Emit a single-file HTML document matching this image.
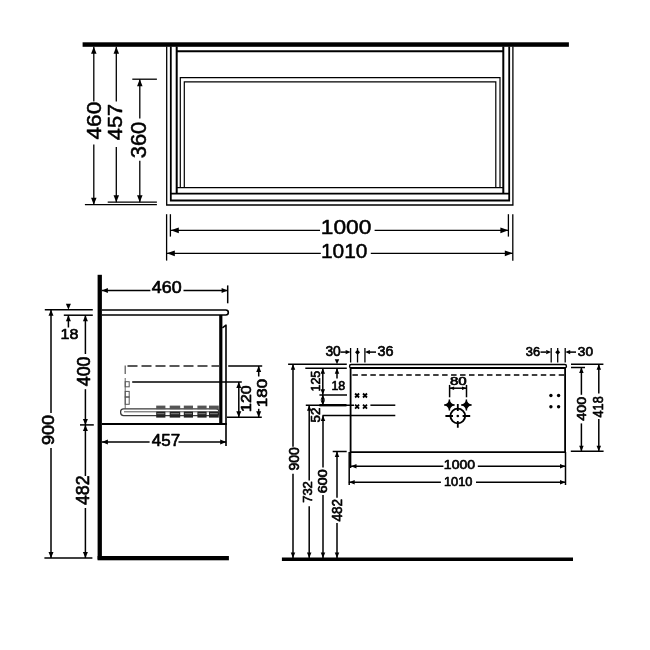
<!DOCTYPE html>
<html><head><meta charset="utf-8"><style>
html,body{margin:0;padding:0;background:#fff;width:650px;height:650px;overflow:hidden}
svg{display:block;will-change:transform}
text{font-family:"Liberation Sans",sans-serif;fill:#000}
</style></head><body>
<svg width="650" height="650" viewBox="0 0 650 650" stroke="#000" fill="#000" stroke-linecap="butt">
<rect x="82.6" y="42.3" width="486.3" height="4.5" stroke="none"/>
<path d="M166.7,46.5 V205 H512.9 V46.5" stroke-width="1.3" fill="none"/>
<path d="M170.8,46.5 V200.5 H509.2 V46.5" stroke-width="1.8" fill="none"/>
<line x1="170.8" y1="193.7" x2="509.2" y2="193.7" stroke-width="1.8"/>
<path d="M176.7,46.5 V193.7" stroke-width="2" fill="none"/>
<path d="M503.3,46.5 V193.7" stroke-width="2" fill="none"/>
<line x1="176.7" y1="51.2" x2="503.3" y2="51.2" stroke-width="2"/>
<path d="M180.3,187.6 V77.7 H500 V187.6" stroke-width="1.2" fill="none"/>
<path d="M184.3,187.6 V81.9 H495.8 V187.6" stroke-width="1.2" fill="none"/>
<line x1="176.7" y1="187.6" x2="503.3" y2="187.6" stroke-width="1.4"/>
<line x1="93.8" y1="46.8" x2="93.8" y2="101.5" stroke-width="1.3"/>
<line x1="93.8" y1="144.6" x2="93.8" y2="204.7" stroke-width="1.3"/>
<polygon points="93.8,46.8 91.05,53.8 96.55,53.8" stroke="none"/>
<polygon points="93.8,204.7 91.05,197.7 96.55,197.7" stroke="none"/>
<line x1="116.3" y1="46.8" x2="116.3" y2="101.5" stroke-width="1.3"/>
<line x1="116.3" y1="146.9" x2="116.3" y2="202.2" stroke-width="1.3"/>
<polygon points="116.3,46.8 113.55,53.8 119.05,53.8" stroke="none"/>
<polygon points="116.3,202.2 113.55,195.2 119.05,195.2" stroke="none"/>
<line x1="139.8" y1="79.2" x2="139.8" y2="118.5" stroke-width="1.3"/>
<line x1="139.8" y1="160.8" x2="139.8" y2="202.2" stroke-width="1.3"/>
<polygon points="139.8,79.2 137.05,86.2 142.55,86.2" stroke="none"/>
<polygon points="139.8,202.2 137.05,195.2 142.55,195.2" stroke="none"/>
<line x1="132.3" y1="79.2" x2="156.9" y2="79.2" stroke-width="1.3"/>
<line x1="84.9" y1="204.7" x2="156.9" y2="204.7" stroke-width="1.3"/>
<line x1="107.7" y1="202.2" x2="156.9" y2="202.2" stroke-width="1.3"/>
<text transform="matrix(0.0,-1.084,1.0,0.0,101.0459,139.47)" font-size="20.904" stroke="#000" stroke-width="0.5" stroke-linejoin="round">460</text>
<text transform="matrix(0.0,-1.0827,1.0,0.0,121.8527,140.2521)" font-size="20.208" stroke="#000" stroke-width="0.5" stroke-linejoin="round">457</text>
<text transform="matrix(0.0,-0.9954,1.0,0.0,146.4348,158.2853)" font-size="22.034" stroke="#000" stroke-width="0.5" stroke-linejoin="round">360</text>
<line x1="166.6" y1="214.2" x2="166.6" y2="260.6" stroke-width="1.3"/>
<line x1="170.4" y1="214.2" x2="170.4" y2="236.6" stroke-width="1.3"/>
<line x1="512.8" y1="214.2" x2="512.8" y2="260.8" stroke-width="1.3"/>
<line x1="508.4" y1="214.2" x2="508.4" y2="236.6" stroke-width="1.3"/>
<line x1="170.8" y1="230.3" x2="320" y2="230.3" stroke-width="1.3"/>
<line x1="374.6" y1="230.3" x2="508.4" y2="230.3" stroke-width="1.3"/>
<polygon points="170.8,230.3 178.8,227.4 178.8,233.2" stroke="none"/>
<polygon points="508.4,230.3 500.4,227.4 500.4,233.2" stroke="none"/>
<line x1="166.8" y1="253.3" x2="320.8" y2="253.3" stroke-width="1.3"/>
<line x1="370.8" y1="253.3" x2="512.8" y2="253.3" stroke-width="1.3"/>
<polygon points="166.8,253.3 174.8,250.4 174.8,256.2" stroke="none"/>
<polygon points="512.8,253.3 504.8,250.4 504.8,256.2" stroke="none"/>
<text transform="matrix(1.0813,0.0,0.0,1.0,320.8167,234.3445)" font-size="21.045" stroke="#000" stroke-width="0.5" stroke-linejoin="round">1000</text>
<text transform="matrix(0.9934,0.0,0.0,1.0,320.9575,257.9445)" font-size="21.045" stroke="#000" stroke-width="0.5" stroke-linejoin="round">1010</text>
<rect x="97.6" y="274.8" width="4.3" height="284.7" stroke="none"/>
<rect x="97.6" y="556" width="131.3" height="4.3" stroke="none"/>
<line x1="101.9" y1="290.5" x2="150.4" y2="290.5" stroke-width="1.5"/>
<line x1="183.5" y1="290.5" x2="227.6" y2="290.5" stroke-width="1.5"/>
<polygon points="101.9,290.5 107.9,288.0 107.9,293.0" stroke="none"/>
<polygon points="227.6,290.5 221.6,288.0 221.6,293.0" stroke="none"/>
<line x1="227.7" y1="285.4" x2="227.7" y2="303.3" stroke-width="1.5"/>
<text transform="matrix(1.0839,0.0,0.0,1.0,151.8157,293.3143)" font-size="16.455" stroke="#000" stroke-width="0.65" stroke-linejoin="round">460</text>
<path d="M101.9,310 H225.8 A2.5,2.5 0 0 1 225.8,315 H101.9" stroke-width="1.6" fill="none"/>
<line x1="44.8" y1="309.7" x2="92.8" y2="309.7" stroke-width="1.5"/>
<line x1="63.8" y1="315.2" x2="92.8" y2="315.2" stroke-width="1.5"/>
<line x1="80" y1="424.9" x2="93.8" y2="424.9" stroke-width="1.5"/>
<line x1="44.4" y1="558" x2="92.4" y2="558" stroke-width="1.5"/>
<line x1="51" y1="309.7" x2="51" y2="413" stroke-width="1.5"/>
<line x1="51" y1="448" x2="51" y2="558" stroke-width="1.5"/>
<polygon points="51,309.7 48.5,315.7 53.5,315.7" stroke="none"/>
<polygon points="51,558 48.5,552 53.5,552" stroke="none"/>
<text transform="matrix(0.0,-1.0964,1.0,0.0,54.1143,445.1207)" font-size="16.455" stroke="#000" stroke-width="0.65" stroke-linejoin="round">900</text>
<polygon points="68.4,309.8 65.9,303.8 70.9,303.8" stroke="none"/>
<line x1="68.4" y1="315.2" x2="68.4" y2="327.5" stroke-width="1.5"/>
<polygon points="68.4,315.2 65.9,321.2 70.9,321.2" stroke="none"/>
<text transform="matrix(1.0389,0.0,0.0,1.0,60.5011,339.324)" font-size="15.466" stroke="#000" stroke-width="0.65" stroke-linejoin="round">18</text>
<line x1="85.4" y1="315.2" x2="85.4" y2="354" stroke-width="1.5"/>
<line x1="85.4" y1="389.2" x2="85.4" y2="424.9" stroke-width="1.5"/>
<polygon points="85.4,315.2 82.9,321.2 87.9,321.2" stroke="none"/>
<polygon points="85.4,424.9 82.9,418.9 87.9,418.9" stroke="none"/>
<text transform="matrix(0.0,-1.0224,1.0,0.0,89.5047,386.2843)" font-size="17.443" stroke="#000" stroke-width="0.65" stroke-linejoin="round">400</text>
<line x1="85.4" y1="424.9" x2="85.4" y2="476" stroke-width="1.5"/>
<line x1="85.4" y1="508" x2="85.4" y2="558" stroke-width="1.5"/>
<polygon points="85.4,424.9 82.9,430.9 87.9,430.9" stroke="none"/>
<polygon points="85.4,558 82.9,552 87.9,552" stroke="none"/>
<text transform="matrix(0.0,-0.9425,1.0,0.0,89.4909,505.0829)" font-size="18.856" stroke="#000" stroke-width="0.65" stroke-linejoin="round">482</text>
<rect x="219.2" y="315" width="3.2" height="109.8" stroke="none"/>
<path d="M222.4,327.8 L226,325.2 V446" stroke-width="1.6" fill="none" stroke-linejoin="round"/>
<line x1="101.9" y1="424" x2="226.8" y2="424" stroke-width="2.2"/>
<line x1="101.9" y1="441.9" x2="149.6" y2="441.9" stroke-width="1.5"/>
<line x1="178.5" y1="441.9" x2="226.2" y2="441.9" stroke-width="1.5"/>
<polygon points="101.9,441.9 107.9,439.4 107.9,444.4" stroke="none"/>
<polygon points="226.2,441.9 220.2,439.4 220.2,444.4" stroke="none"/>
<text transform="matrix(1.0156,0.0,0.0,1.0,151.8359,446.4119)" font-size="16.696" stroke="#000" stroke-width="0.65" stroke-linejoin="round">457</text>
<line x1="127.5" y1="366" x2="219" y2="366" stroke-width="1.6" stroke="#222" stroke-dasharray="10 4"/>
<line x1="125.2" y1="365.5" x2="125.2" y2="374" stroke-width="1.2" stroke="#555"/>
<line x1="125.2" y1="378" x2="125.2" y2="408.5" stroke-width="1.0" stroke="#666"/>
<rect x="125.2" y="381.7" width="4" height="5.1" fill="none" stroke="#555" stroke-width="1"/>
<rect x="125.2" y="391.4" width="4" height="5.6" fill="none" stroke="#555" stroke-width="1"/>
<rect x="125.2" y="397" width="4" height="7.3" fill="none" stroke="#555" stroke-width="1"/>
<line x1="228.2" y1="366" x2="262.2" y2="366" stroke-width="1.5"/>
<line x1="132.2" y1="382" x2="241.8" y2="382" stroke-width="1.5"/>
<line x1="227" y1="417.3" x2="261.8" y2="417.3" stroke-width="1.5"/>
<line x1="238.8" y1="382" x2="238.8" y2="417.3" stroke-width="1.5"/>
<polygon points="238.8,382 236.3,388 241.3,388" stroke="none"/>
<polygon points="238.8,417.3 236.3,411.3 241.3,411.3" stroke="none"/>
<line x1="258.7" y1="366" x2="258.7" y2="376.5" stroke-width="1.5"/>
<line x1="258.7" y1="408.8" x2="258.7" y2="417.3" stroke-width="1.5"/>
<polygon points="258.7,366 256.2,372 261.2,372" stroke="none"/>
<polygon points="258.7,417.3 256.2,411.3 261.2,411.3" stroke="none"/>
<text transform="matrix(0.0,-1.118,1.0,0.0,251.4364,411.8839)" font-size="14.195" stroke="#000" stroke-width="0.65" stroke-linejoin="round">120</text>
<text transform="matrix(0.0,-1.1951,1.0,0.0,267.0364,407.1672)" font-size="14.195" stroke="#000" stroke-width="0.65" stroke-linejoin="round">180</text>
<rect x="120.6" y="408.8" width="98.4" height="6.8" rx="3" fill="none" stroke="#3a3a3a" stroke-width="1.3"/>
<line x1="124" y1="411.8" x2="219" y2="411.8" stroke-width="1.0" stroke="#555"/>
<rect x="156.2" y="405.6" width="9.2" height="3.6" fill="#555" stroke="none"/>
<rect x="156.2" y="411.6" width="9.2" height="6" fill="#222" stroke="none"/>
<rect x="157.2" y="413.2" width="7.2" height="1" fill="#888" stroke="none"/>
<rect x="169.7" y="405.6" width="10.5" height="3.6" fill="#555" stroke="none"/>
<rect x="169.7" y="411.6" width="10.5" height="6" fill="#222" stroke="none"/>
<rect x="170.7" y="413.2" width="8.5" height="1" fill="#888" stroke="none"/>
<rect x="183.8" y="405.6" width="9.2" height="3.6" fill="#555" stroke="none"/>
<rect x="183.8" y="411.6" width="9.2" height="6" fill="#222" stroke="none"/>
<rect x="184.8" y="413.2" width="7.2" height="1" fill="#888" stroke="none"/>
<rect x="197.4" y="405.6" width="9.2" height="3.6" fill="#555" stroke="none"/>
<rect x="197.4" y="411.6" width="9.2" height="6" fill="#222" stroke="none"/>
<rect x="198.4" y="413.2" width="7.2" height="1" fill="#888" stroke="none"/>
<rect x="209" y="405.6" width="9.8" height="3.6" fill="#555" stroke="none"/>
<rect x="209" y="411.6" width="9.8" height="6" fill="#222" stroke="none"/>
<rect x="210" y="413.2" width="7.8" height="1" fill="#888" stroke="none"/>
<rect x="281.9" y="557.5" width="291.1" height="3.5" stroke="none"/>
<path d="M351.2,364.5 H564.8 A1.65,1.65 0 0 1 564.8,367.8 H351.2 A1.65,1.65 0 0 1 351.2,364.5 Z" stroke-width="1.4" fill="none"/>
<line x1="350.6" y1="367.9" x2="565.1" y2="367.9" stroke-width="2.0"/>
<path d="M350.6,367.6 V452.2 H565.1 V367.6" stroke-width="1.8" fill="none"/>
<line x1="352.4" y1="375" x2="565" y2="375" stroke-width="1.6" stroke-dasharray="5.5 3.47"/>
<line x1="288.1" y1="364.3" x2="346.8" y2="364.3" stroke-width="1.5"/>
<line x1="305.3" y1="368.3" x2="346.8" y2="368.3" stroke-width="1.5"/>
<line x1="319.4" y1="395" x2="347" y2="395" stroke-width="1.5"/>
<line x1="305.8" y1="405.2" x2="354" y2="405.2" stroke-width="1.5"/>
<line x1="319.4" y1="405.2" x2="346.5" y2="405.2" stroke-width="2.4"/>
<line x1="370.4" y1="405.2" x2="395.3" y2="405.2" stroke-width="1.5"/>
<line x1="322.5" y1="415.4" x2="395.3" y2="415.4" stroke-width="1.5"/>
<line x1="332.7" y1="451.5" x2="346.7" y2="451.5" stroke-width="1.5"/>
<line x1="571" y1="364.3" x2="603.4" y2="364.3" stroke-width="1.5"/>
<line x1="571" y1="367.5" x2="585" y2="367.5" stroke-width="1.5"/>
<line x1="570.8" y1="451.2" x2="603.6" y2="451.2" stroke-width="1.5"/>
<line x1="350.6" y1="348" x2="350.6" y2="362.5" stroke-width="1.3"/>
<line x1="357.5" y1="348" x2="357.5" y2="362.5" stroke-width="1.3"/>
<line x1="364.9" y1="348" x2="364.9" y2="362.5" stroke-width="1.3"/>
<line x1="551.2" y1="348" x2="551.2" y2="362.5" stroke-width="1.3"/>
<line x1="557.7" y1="348" x2="557.7" y2="362.5" stroke-width="1.3"/>
<line x1="565.2" y1="348" x2="565.2" y2="362.5" stroke-width="1.3"/>
<line x1="340.5" y1="352.1" x2="346" y2="352.1" stroke-width="1.5"/>
<polygon points="350.6,352.1 345.6,350.0 345.6,354.2" stroke="none"/>
<polygon points="355,352.2 357.5,349.7 360,352.2 357.5,354.7" stroke="none"/>
<polygon points="364.9,352.1 369.9,350.0 369.9,354.2" stroke="none"/>
<line x1="368" y1="352.1" x2="376" y2="352.1" stroke-width="1.5"/>
<line x1="540.5" y1="352.1" x2="546" y2="352.1" stroke-width="1.5"/>
<polygon points="551.2,352.1 546.2,350.0 546.2,354.2" stroke="none"/>
<polygon points="555.2,352.2 557.7,349.7 560.2,352.2 557.7,354.7" stroke="none"/>
<polygon points="565.2,352.1 570.2,350.0 570.2,354.2" stroke="none"/>
<line x1="568" y1="352.1" x2="576" y2="352.1" stroke-width="1.5"/>
<text transform="matrix(0.9766,0.0,0.0,1.0,325.397,356.1364)" font-size="14.195" stroke="#000" stroke-width="0.65" stroke-linejoin="round">30</text>
<text transform="matrix(1.0054,0.0,0.0,1.0,377.376,356.235)" font-size="14.336" stroke="#000" stroke-width="0.65" stroke-linejoin="round">36</text>
<text transform="matrix(1.0061,0.0,0.0,1.0,525.8352,356.1502)" font-size="12.782" stroke="#000" stroke-width="0.65" stroke-linejoin="round">36</text>
<text transform="matrix(1.0694,0.0,0.0,1.0,577.8044,356.1502)" font-size="12.782" stroke="#000" stroke-width="0.65" stroke-linejoin="round">30</text>
<line x1="293" y1="364.3" x2="293" y2="446.8" stroke-width="1.5"/>
<line x1="293" y1="473.8" x2="293" y2="558" stroke-width="1.5"/>
<polygon points="293,364.3 290.75,369.8 295.25,369.8" stroke="none"/>
<polygon points="293,558 290.75,552.5 295.25,552.5" stroke="none"/>
<text transform="matrix(0.0,-0.9575,1.0,0.0,298.5322,470.5311)" font-size="14.618" stroke="#000" stroke-width="0.65" stroke-linejoin="round">900</text>
<line x1="309.2" y1="405.2" x2="309.2" y2="480.4" stroke-width="1.5"/>
<line x1="309.2" y1="506.2" x2="309.2" y2="558" stroke-width="1.5"/>
<polygon points="309.2,405.2 306.95,410.7 311.45,410.7" stroke="none"/>
<polygon points="309.2,558 306.95,552.5 311.45,552.5" stroke="none"/>
<text transform="matrix(0.0,-1.0755,1.0,0.0,312.3571,502.8409)" font-size="12.076" stroke="#000" stroke-width="0.65" stroke-linejoin="round">732</text>
<line x1="323" y1="415.4" x2="323" y2="467.5" stroke-width="1.5"/>
<line x1="323" y1="495" x2="323" y2="558" stroke-width="1.5"/>
<polygon points="323,415.4 320.75,420.9 325.25,420.9" stroke="none"/>
<polygon points="323,558 320.75,552.5 325.25,552.5" stroke="none"/>
<text transform="matrix(0.0,-1.1969,1.0,0.0,326.8584,493.2004)" font-size="11.935" stroke="#000" stroke-width="0.65" stroke-linejoin="round">600</text>
<line x1="337" y1="451.5" x2="337" y2="497.7" stroke-width="1.5"/>
<line x1="337" y1="523" x2="337" y2="558" stroke-width="1.5"/>
<polygon points="337,451.5 334.75,457.0 339.25,457.0" stroke="none"/>
<polygon points="337,558 334.75,552.5 339.25,552.5" stroke="none"/>
<text transform="matrix(0.0,-0.9284,1.0,0.0,341.5322,521.4865)" font-size="14.618" stroke="#000" stroke-width="0.65" stroke-linejoin="round">482</text>
<line x1="322.8" y1="368.3" x2="322.8" y2="394.8" stroke-width="1.5"/>
<polygon points="322.8,368.3 320.55,373.8 325.05,373.8" stroke="none"/>
<polygon points="322.8,394.8 320.55,389.3 325.05,389.3" stroke="none"/>
<line x1="322.8" y1="394.8" x2="322.8" y2="405.2" stroke-width="1.5"/>
<polygon points="322.8,394.8 320.55,399.8 325.05,399.8" stroke="none"/>
<polygon points="322.8,405.2 320.55,400.2 325.05,400.2" stroke="none"/>
<text transform="matrix(0.0,-0.9714,1.0,0.0,320.4502,391.5208)" font-size="12.782" stroke="#000" stroke-width="0.65" stroke-linejoin="round">125</text>
<text transform="matrix(0.0,-1.0979,1.0,0.0,320.1571,422.4059)" font-size="12.076" stroke="#000" stroke-width="0.65" stroke-linejoin="round">52</text>
<polygon points="337,364.3 334.75,359.3 339.25,359.3" stroke="none"/>
<line x1="337" y1="368.3" x2="337" y2="378.5" stroke-width="1.5"/>
<polygon points="337,368.3 334.75,373.8 339.25,373.8" stroke="none"/>
<text transform="matrix(0.9953,0.0,0.0,1.0,331.3773,390.0529)" font-size="12.5" stroke="#000" stroke-width="0.65" stroke-linejoin="round">18</text>
<line x1="581.4" y1="367.5" x2="581.4" y2="394.8" stroke-width="1.5"/>
<line x1="581.4" y1="423.4" x2="581.4" y2="451.2" stroke-width="1.5"/>
<polygon points="581.4,367.5 579.15,373.0 583.65,373.0" stroke="none"/>
<polygon points="581.4,451.2 579.15,445.7 583.65,445.7" stroke="none"/>
<text transform="matrix(0.0,-1.0638,1.0,0.0,585.9433,420.7043)" font-size="13.489" stroke="#000" stroke-width="0.65" stroke-linejoin="round">400</text>
<line x1="598.8" y1="364.3" x2="598.8" y2="393.4" stroke-width="1.5"/>
<line x1="598.8" y1="419" x2="598.8" y2="451.2" stroke-width="1.5"/>
<polygon points="598.8,364.3 596.55,369.8 601.05,369.8" stroke="none"/>
<polygon points="598.8,451.2 596.55,445.7 601.05,445.7" stroke="none"/>
<text transform="matrix(0.0,-0.8861,1.0,0.0,603.135,417.4665)" font-size="14.336" stroke="#000" stroke-width="0.65" stroke-linejoin="round">418</text>
<line x1="350.6" y1="452" x2="350.6" y2="468" stroke-width="1.5"/>
<line x1="349.2" y1="452" x2="349.2" y2="485" stroke-width="1.5"/>
<line x1="565.5" y1="452" x2="565.5" y2="485" stroke-width="1.5"/>
<line x1="351" y1="466.3" x2="443.4" y2="466.3" stroke-width="1.5"/>
<line x1="477.8" y1="466.3" x2="565.5" y2="466.3" stroke-width="1.5"/>
<polygon points="351,466.3 356.5,464.05 356.5,468.55" stroke="none"/>
<polygon points="565.5,466.3 560.0,464.05 560.0,468.55" stroke="none"/>
<line x1="348.8" y1="482.2" x2="440.9" y2="482.2" stroke-width="1.5"/>
<line x1="476" y1="482.2" x2="565.5" y2="482.2" stroke-width="1.5"/>
<polygon points="349.2,482.2 354.7,479.95 354.7,484.45" stroke="none"/>
<polygon points="565.5,482.2 560.0,479.95 560.0,484.45" stroke="none"/>
<text transform="matrix(1.0723,0.0,0.0,1.0,443.8579,469.2474)" font-size="13.065" stroke="#000" stroke-width="0.65" stroke-linejoin="round">1000</text>
<text transform="matrix(0.9923,0.0,0.0,1.0,443.9482,485.8488)" font-size="12.924" stroke="#000" stroke-width="0.65" stroke-linejoin="round">1010</text>
<path d="M355.1,393.5 L359.1,397.5 M359.1,393.5 L355.1,397.5" stroke-width="1.8"/>
<path d="M355.1,404.6 L359.1,408.6 M359.1,404.6 L355.1,408.6" stroke-width="1.8"/>
<path d="M363,393.5 L367,397.5 M367,393.5 L363,397.5" stroke-width="1.8"/>
<path d="M363,404.6 L367,408.6 M367,404.6 L363,408.6" stroke-width="1.8"/>
<line x1="449.6" y1="384.9" x2="449.6" y2="397.3" stroke-width="1.5"/>
<line x1="466.5" y1="384.9" x2="466.5" y2="397.3" stroke-width="1.5"/>
<line x1="449.6" y1="388.2" x2="466.5" y2="388.2" stroke-width="1.5"/>
<polygon points="449.6,388.2 454.1,386.45 454.1,389.95" stroke="none"/>
<polygon points="466.5,388.2 462.0,386.45 462.0,389.95" stroke="none"/>
<text transform="matrix(1.3281,0.0,0.0,1.0,449.9688,385.064)" font-size="11.37" stroke="#000" stroke-width="0.65" stroke-linejoin="round">80</text>
<path d="M444.2,405 Q448.09999999999997,403.7 449.4,399.6 Q450.7,403.7 454.59999999999997,405 Q450.7,406.3 449.4,410.4 Q448.09999999999997,406.3 444.2,405 Z" stroke="none"/>
<circle cx="449.4" cy="405" r="2.1" stroke="none"/>
<path d="M444.2,405 H454.59999999999997 M449.4,399.6 V410.4" stroke-width="1.5"/>
<path d="M461.2,405 Q465.09999999999997,403.7 466.4,399.6 Q467.7,403.7 471.59999999999997,405 Q467.7,406.3 466.4,410.4 Q465.09999999999997,406.3 461.2,405 Z" stroke="none"/>
<circle cx="466.4" cy="405" r="2.1" stroke="none"/>
<path d="M461.2,405 H471.59999999999997 M466.4,399.6 V410.4" stroke-width="1.5"/>
<circle cx="457.8" cy="416" r="7.35" fill="none" stroke-width="1.9"/>
<circle cx="457.8" cy="416" r="1.3" stroke="none"/>
<path d="M445.4,416 H453 M462.6,416 H470.2 M457.8,403.9 V411 M457.8,421 V427.8" stroke-width="1.8" fill="none"/>
<circle cx="550.9" cy="395.5" r="1.7" stroke="none"/>
<circle cx="550.9" cy="406.8" r="1.7" stroke="none"/>
<circle cx="558.6" cy="395.5" r="1.7" stroke="none"/>
<circle cx="558.6" cy="406.8" r="1.7" stroke="none"/>
</svg>
</body></html>
